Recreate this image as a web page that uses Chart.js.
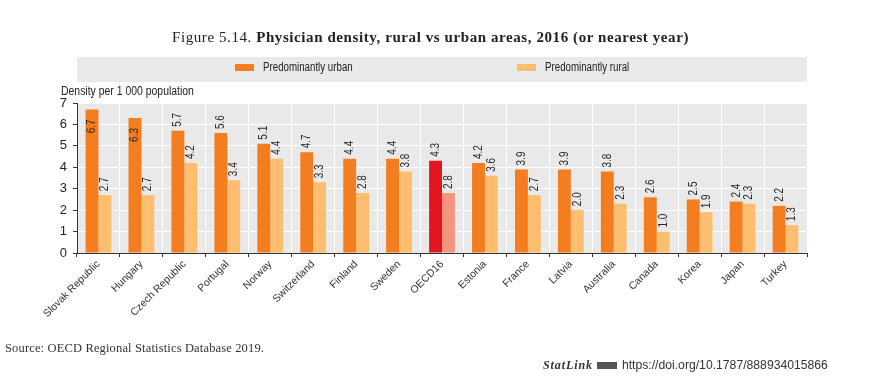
<!DOCTYPE html>
<html>
<head>
<meta charset="utf-8">
<script src="https://cdn.jsdelivr.net/npm/chart.js@4.4.1/dist/chart.umd.min.js"></script>
<style>
  html, body { margin: 0; padding: 0; background: #fff; }
  #wrap { position: relative; width: 889px; height: 392px; overflow: hidden; }
  #c { position: absolute; left: 0; top: 0; }
  .t { position: absolute; white-space: nowrap; color: #222; }
  #title { left: 172px; top: 29px; font: 15px "Liberation Serif", serif; letter-spacing: 0.58px; }
  #title b { font-weight: bold; }
  #ytitle { left: 61px; top: 84px; font: 12px "Liberation Sans", Arial, sans-serif; color: #222; transform: scaleX(0.87); transform-origin: left center; }
  #source { left: 5px; top: 341px; font: 12.5px "Liberation Serif", serif; letter-spacing: 0.15px; color: #333; }
  #statlink { left: 543px; top: 358px; font: 12.2px "Liberation Sans", Arial, sans-serif; color: #333; }
  #statlink i { font: italic bold 12px "Liberation Serif", serif; letter-spacing: 0.9px; }
  #statlink .ic { display: inline-block; width: 20px; height: 7px; background: #555; margin: 0 5px 0 4px; vertical-align: middle; }
</style>
</head>
<body>
<div id="wrap">
  <canvas id="c" width="889" height="392"></canvas>
  <div class="t" id="title">Figure 5.14. <b>Physician density, rural vs urban areas, 2016 (or nearest year)</b></div>
  <div class="t" id="ytitle">Density per 1 000 population</div>
  <div class="t" id="source">Source: OECD Regional Statistics Database 2019.</div>
  <div class="t" id="statlink"><i>StatLink</i><span class="ic"></span>https://doi.org/10.1787/888934015866</div>
</div>
<script>
const categories = ["Slovak Republic", "Hungary", "Czech Republic", "Portugal", "Norway", "Switzerland", "Finland", "Sweden", "OECD16", "Estonia", "France", "Latvia", "Australia", "Canada", "Korea", "Japan", "Turkey"];
const urbanValues = [6.7, 6.3, 5.7, 5.6, 5.1, 4.7, 4.4, 4.4, 4.3, 4.2, 3.9, 3.9, 3.8, 2.6, 2.5, 2.4, 2.2];
const ruralValues = [2.7, 2.7, 4.2, 3.4, 4.4, 3.3, 2.8, 3.8, 2.8, 3.6, 2.7, 2.0, 2.3, 1.0, 1.9, 2.3, 1.3];
const seriesNames = ["Predominantly urban", "Predominantly rural"];
const yTicks = [0, 1, 2, 3, 4, 5, 6, 7];
const highlight = "OECD16";

const URBAN = "#F47D20", RURAL = "#FDBE6F", URBAN_HI = "#E1161F", RURAL_HI = "#F4957C";
const SANS = '"Liberation Sans", Arial, sans-serif';

const bgPlugin = {
  id: 'bg',
  beforeDraw(chart) {
    const { ctx, chartArea: a } = chart;
    ctx.save();
    ctx.fillStyle = '#e9e9e9';
    ctx.fillRect(a.left, a.top, a.right - a.left, a.bottom - a.top);
    ctx.fillRect(a.left, 57, a.right - a.left, 25);
    ctx.restore();
  },
  afterDraw(chart) {
    const { ctx } = chart;
    const xs = [235, 517];
    ctx.save();
    chart.data.datasets.forEach((ds, i) => {
      ctx.fillStyle = i === 0 ? URBAN : RURAL;
      ctx.fillRect(xs[i], 64, 19, 7);
      ctx.save();
      ctx.fillStyle = '#222';
      ctx.font = '12px ' + SANS;
      ctx.textBaseline = 'middle';
      ctx.textAlign = 'left';
      ctx.translate(xs[i] + 28, 68);
      ctx.scale(0.81, 1);
      ctx.fillText(ds.label, 0, 0);
      ctx.restore();
    });
    ctx.restore();
  }
};

const labelPlugin = {
  id: 'vlabels',
  afterDatasetsDraw(chart) {
    const { ctx, chartArea: a } = chart;
    const sx = 0.8;
    ctx.save();
    ctx.font = '12.5px ' + SANS;
    ctx.fillStyle = '#2a2a2a';
    ctx.textBaseline = 'middle';
    chart.data.datasets.forEach((ds, i) => {
      const meta = chart.getDatasetMeta(i);
      meta.data.forEach((bar, j) => {
        const txt = ds.data[j].toFixed(1);
        const w = ctx.measureText(txt).width * sx;
        ctx.save();
        if (bar.y - 4 - w < a.top) {
          ctx.translate(bar.x, bar.y + 10);
          ctx.rotate(-Math.PI / 2);
          ctx.scale(sx, 1);
          ctx.textAlign = 'right';
        } else {
          ctx.translate(bar.x, bar.y - 4);
          ctx.rotate(-Math.PI / 2);
          ctx.scale(sx, 1);
          ctx.textAlign = 'left';
        }
        ctx.fillText(txt, 0, 0);
        ctx.restore();
      });
    });
    ctx.restore();
  }
};

new Chart(document.getElementById('c'), {
  type: 'bar',
  data: {
    labels: categories,
    datasets: [
      { label: seriesNames[0], data: urbanValues, backgroundColor: categories.map(c => c === highlight ? URBAN_HI : URBAN), categoryPercentage: 0.6, barPercentage: 1.0 },
      { label: seriesNames[1], data: ruralValues, backgroundColor: categories.map(c => c === highlight ? RURAL_HI : RURAL), categoryPercentage: 0.6, barPercentage: 1.0 }
    ]
  },
  options: {
    responsive: false,
    animation: false,
    devicePixelRatio: 1,
    layout: { padding: { top: 103, right: 82, left: 0, bottom: 0 } },
    plugins: { legend: { display: false }, tooltip: { enabled: false } },
    scales: {
      x: {
        grid: { offset: true, color: '#ffffff', lineWidth: 1, drawOnChartArea: true, drawTicks: true, tickLength: 4, tickColor: '#333' },
        border: { color: '#333', width: 1 },
        ticks: { minRotation: 45, maxRotation: 45, autoSkip: false, color: '#333', font: { family: SANS, size: 10.5 }, padding: 1 },
        afterFit(s) { s.height = 139; }
      },
      y: {
        min: 0, max: 7,
        afterBuildTicks(s) { s.ticks = yTicks.map(v => ({ value: v })); },
        grid: { color: '#ffffff', lineWidth: 1, drawTicks: true, tickLength: 4, tickColor: '#333' },
        border: { color: '#333', width: 1 },
        ticks: { color: '#222', font: { family: SANS, size: 13 }, padding: 6 },
        afterFit(s) { s.width = 77; }
      }
    }
  },
  plugins: [bgPlugin, labelPlugin]
});
</script>
</body>
</html>
